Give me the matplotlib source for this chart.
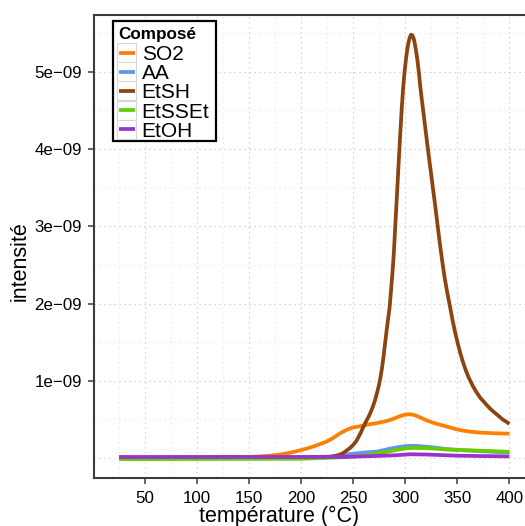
import matplotlib
matplotlib.use("Agg")
import matplotlib.pyplot as plt
from matplotlib.lines import Line2D
from matplotlib.patches import Rectangle
from matplotlib.ticker import MultipleLocator

plt.rcParams['font.family'] = ['Liberation Sans', 'DejaVu Sans']

# data (intensity in units of 1e-9)
so2_t = [25, 100, 150, 160, 170, 180, 190, 199, 206, 212, 218, 224, 229, 233, 238, 243,
         247, 250, 253, 256, 260, 265, 272, 281, 286, 290, 294, 298, 301, 304, 307, 310,
         313, 316, 320, 323, 327, 331, 335, 339, 343, 347, 351, 355, 363, 371, 385, 400]
so2_v = [0.012, 0.012, 0.015, 0.02, 0.03, 0.045, 0.07, 0.10, 0.125, 0.15, 0.18, 0.21,
         0.245, 0.28, 0.325, 0.36, 0.383, 0.395, 0.403, 0.41, 0.42, 0.435, 0.45, 0.475,
         0.495, 0.515, 0.537, 0.555, 0.563, 0.566, 0.562, 0.55, 0.533, 0.515, 0.49, 0.475,
         0.456, 0.44, 0.425, 0.41, 0.395, 0.38, 0.366, 0.355, 0.34, 0.33, 0.32, 0.315]

aa_t = [25, 200, 230, 246, 260, 274, 285, 295, 302, 308, 315, 325, 340, 355, 370, 385, 400]
aa_v = [0.0, 0.005, 0.02, 0.05, 0.07, 0.085, 0.12, 0.145, 0.155, 0.158, 0.152, 0.14,
        0.115, 0.1, 0.09, 0.08, 0.072]

etsh_t = [25, 200, 225, 230, 235, 240, 244, 247, 250, 253, 255, 257, 259, 261, 263, 265,
          267, 269, 271, 273, 274.5, 276, 277.5, 279, 280.5, 282, 283.5, 285, 286.5, 288,
          289, 290, 291, 292, 293.5, 295, 296.5, 298, 299.5, 301, 302.5, 304, 305.5, 307,
          308.5, 310, 311.5, 313, 314.5, 316, 318, 320, 322.5, 325, 327, 329, 331, 333,
          335.5, 338, 340.5, 343, 345.5, 348, 350.5, 353, 355.5, 358, 361, 365, 368.5,
          372, 376, 380, 383, 386.5, 390, 393.5, 397, 400]
etsh_v = [0.0, 0.0, 0.01, 0.02, 0.035, 0.06, 0.10, 0.13, 0.17, 0.22, 0.27, 0.32, 0.38,
          0.44, 0.49, 0.54, 0.6, 0.67, 0.75, 0.85, 0.93, 1.03, 1.15, 1.3, 1.47, 1.64, 1.8,
          1.95, 2.2, 2.45, 2.65, 2.9, 3.15, 3.4, 3.78, 4.15, 4.5, 4.8, 5.02, 5.2, 5.34,
          5.43, 5.48, 5.47, 5.41, 5.3, 5.17, 5.0, 4.8, 4.63, 4.41, 4.19, 3.92, 3.66, 3.45,
          3.24, 3.02, 2.8, 2.55, 2.32, 2.13, 1.96, 1.78, 1.62, 1.48, 1.35, 1.24, 1.14, 1.04,
          0.93, 0.85, 0.78, 0.72, 0.66, 0.62, 0.58, 0.54, 0.5, 0.47, 0.44]

etsset_t = [25, 200, 240, 260, 276, 290, 301, 308, 318, 330, 340, 360, 380, 400]
etsset_v = [-0.015, -0.01, 0.01, 0.03, 0.065, 0.1, 0.125, 0.13, 0.128, 0.12, 0.11, 0.1,
            0.09, 0.08]

etoh_t = [25, 240, 270, 290, 305, 320, 350, 400]
etoh_v = [0.012, 0.014, 0.025, 0.035, 0.048, 0.045, 0.03, 0.02]

names = ["SO2", "AA", "EtSH", "EtSSEt", "EtOH"]
colors = ["#FF7F00", "#6495ED", "#8B4513", "#66CD00", "#9A32CD"]
series = [(so2_t, so2_v), (aa_t, aa_v), (etsh_t, etsh_v), (etsset_t, etsset_v), (etoh_t, etoh_v)]

x_ticks = [50, 100, 150, 200, 250, 300, 350, 400]
y_ticks = [1e-9, 2e-9, 3e-9, 4e-9, 5e-9]
y_tick_labels = ["1e\u221209", "2e\u221209", "3e\u221209", "4e\u221209", "5e\u221209"]

W, H = 525, 526
fig = plt.figure(figsize=(W / 100, H / 100), dpi=100)
ax = fig.add_axes([94 / W, 1 - 478 / H, 446 / W, 463 / H])

for (t, v), c in zip(series, colors):
    ax.plot(t, [val * 1e-9 for val in v], color=c, lw=2.7, solid_capstyle='butt',
            solid_joinstyle='round', zorder=3)

ax.set_xlim(1, 1 + 446 / 1.041)
ax.set_ylim(-0.259e-9, 5.735e-9)

ax.set_xticks(x_ticks)
ax.set_xticklabels([str(x) for x in x_ticks])
ax.set_yticks(y_ticks)
ax.set_yticklabels(y_tick_labels)
ax.xaxis.set_minor_locator(MultipleLocator(25))
ax.yaxis.set_minor_locator(MultipleLocator(0.5e-9))

ax.grid(which='major', color='#BEBEBE', lw=0.8, ls=(0, (1, 3.5)), zorder=0)
ax.grid(which='minor', color='#E3E3E3', lw=0.8, ls=(0, (1, 3.5)), zorder=0)
ax.axhline(0, color='#BEBEBE', lw=0.8, ls=(0, (1, 3.5)), zorder=0)

spine_col = '#3C3C3C'
for s in ['left', 'bottom', 'top']:
    ax.spines[s].set_color(spine_col)
    ax.spines[s].set_linewidth(1.5)
ax.spines['right'].set_visible(False)
ax.tick_params(which='major', length=4, width=1.1, color=spine_col, labelsize=12.2,
               labelcolor='black')
ax.tick_params(axis='x', pad=5.5)
ax.tick_params(axis='y', pad=4.8)
ax.tick_params(which='minor', length=0)

# axis titles
fig.text(279 / W, 1 - 516 / H, "température (°C)", ha='center', va='center', fontsize=15.5)
fig.text(20.5 / W, 1 - 261 / H, "intensité", ha='center', va='center', rotation=90,
         fontsize=15.5)

# legend
def fx(x):
    return x / W

def fy(y):
    return 1 - y / H

fig.patches.append(Rectangle((fx(113), fy(140.7)), (216 - 113) / W, (140.7 - 20.7) / H,
                             transform=fig.transFigure, facecolor='white',
                             edgecolor='black', lw=1.6, zorder=5))
fig.text(fx(118), fy(39), "Composé", fontsize=12.3, fontweight='bold', va='baseline',
         zorder=6)
for i, (name, c) in enumerate(zip(names, colors)):
    base = 60 + i * 19.2
    mid = base - 7.5
    fig.patches.append(Rectangle((fx(117), fy(mid + 9.5)), 19 / W, 19 / H,
                                 transform=fig.transFigure, facecolor='white',
                                 edgecolor='#D6D6D6', lw=0.8, zorder=6))
    fig.lines.append(Line2D([fx(119), fx(135)], [fy(mid), fy(mid)], color=c, lw=2.7,
                            transform=fig.transFigure, solid_capstyle='butt', zorder=7))
    fig.text(fx(141.7), fy(base), name, fontsize=15, va='baseline', zorder=7)

fig.savefig("out.png", dpi=100)
